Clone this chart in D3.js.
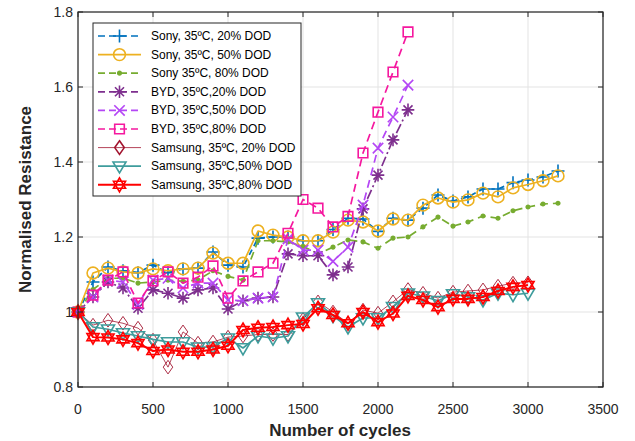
<!DOCTYPE html>
<html>
<head>
<meta charset="utf-8">
<script src="https://cdn.jsdelivr.net/npm/d3@7"></script>
<style>
  body { margin: 0; background: #fff; }
  text { font-family: "Liberation Sans", Arial, sans-serif; }
</style>
</head>
<body>
<svg id="chart" width="635" height="441"></svg>
<script>
// cycles sampled every 100
var cyclesSony = d3.range(0, 3201, 100);
var cyclesBYD = d3.range(0, 2201, 100);
var cyclesSamsung = d3.range(0, 3001, 100);

var sony20 = [1.0, 1.08, 1.12, 1.11, 1.105, 1.125, 1.105, 1.115, 1.117, 1.16, 1.125, 1.12, 1.197, 1.2, 1.2, 1.19, 1.19, 1.22, 1.25, 1.248, 1.215, 1.25, 1.245, 1.277, 1.312, 1.296, 1.307, 1.328, 1.328, 1.345, 1.352, 1.36, 1.376];
var sony50 = [1.0, 1.104, 1.117, 1.107, 1.104, 1.115, 1.11, 1.115, 1.117, 1.157, 1.13, 1.13, 1.216, 1.205, 1.2, 1.19, 1.19, 1.213, 1.245, 1.24, 1.216, 1.248, 1.245, 1.285, 1.304, 1.293, 1.299, 1.317, 1.307, 1.331, 1.34, 1.35, 1.363];
var sony80 = [1.0, 1.06, 1.09, 1.09, 1.077, 1.08, 1.085, 1.082, 1.085, 1.11, 1.095, 1.085, 1.19, 1.19, 1.187, 1.175, 1.155, 1.173, 1.192, 1.187, 1.17, 1.197, 1.2, 1.227, 1.253, 1.229, 1.24, 1.256, 1.25, 1.27, 1.28, 1.288, 1.29];
var byd20 = [1.0, 1.04, 1.08, 1.064, 1.01, 1.059, 1.05, 1.037, 1.059, 1.064, 1.008, 1.03, 1.037, 1.04, 1.155, 1.15, 1.15, 1.099, 1.12, 1.275, 1.365, 1.459, 1.539];
var byd50 = [1.0, 1.04, 1.085, 1.08, 1.02, 1.085, 1.09, 1.064, 1.077, 1.077, 1.032, 1.03, 1.037, 1.04, 1.195, 1.165, 1.165, 1.135, 1.173, 1.285, 1.437, 1.52, 1.605];
var byd80 = [1.0, 1.045, 1.085, 1.107, 1.024, 1.083, 1.107, 1.077, 1.093, 1.123, 1.037, 1.083, 1.107, 1.13, 1.21, 1.3, 1.277, 1.227, 1.255, 1.424, 1.533, 1.64, 1.747];
var samsung20 = [1.0, 0.965, 0.978, 0.97, 0.957, 0.925, 0.853, 0.947, 0.917, 0.92, 0.933, 0.936, 0.94, 0.94, 0.94, 0.98, 1.027, 1.0, 0.97, 1.005, 0.997, 1.027, 1.06, 1.05, 1.037, 1.053, 1.056, 1.059, 1.069, 1.077, 1.078];
var samsung50 = [1.0, 0.96, 0.954, 0.944, 0.936, 0.927, 0.92, 0.92, 0.906, 0.907, 0.93, 0.904, 0.936, 0.93, 0.936, 0.986, 1.024, 0.99, 0.96, 0.984, 0.984, 1.014, 1.05, 1.042, 1.03, 1.048, 1.04, 1.032, 1.05, 1.046, 1.05];
var samsung80 = [1.0, 0.933, 0.932, 0.927, 0.917, 0.896, 0.9, 0.894, 0.894, 0.9, 0.91, 0.952, 0.958, 0.96, 0.965, 0.968, 1.01, 0.992, 0.97, 1.0, 0.973, 0.996, 1.043, 1.032, 1.013, 1.035, 1.035, 1.04, 1.056, 1.067, 1.072];

var labels = ["Sony, 35ºC, 20% DOD", "Sony, 35ºC, 50% DOD", "Sony 35ºC, 80% DOD",
  "BYD, 35ºC,20% DOD", "BYD, 35ºC,50% DOD", "BYD, 35ºC,80% DOD",
  "Samsung, 35ºC, 20% DOD", "Samsung, 35ºC,50% DOD", "Samsung, 35ºC,80% DOD"];

var xTicks = [0, 500, 1000, 1500, 2000, 2500, 3000, 3500];
var yTicks = [0.8, 1, 1.2, 1.4, 1.6, 1.8];

var series = [
  {x: cyclesSony, y: sony20, colour: "#0072bd", marker: "plus", dash: "6,4", width: 1.7},
  {x: cyclesSony, y: sony50, colour: "#edb120", marker: "circle", dash: null, width: 1.7},
  {x: cyclesSony, y: sony80, colour: "#77ac30", marker: "dot", dash: "8,5", width: 1.7},
  {x: cyclesBYD, y: byd20, colour: "#7e2f8e", marker: "asterisk", dash: "10,3,2,3", width: 1.7},
  {x: cyclesBYD, y: byd50, colour: "#b446f5", marker: "cross", dash: "8,5", width: 1.7},
  {x: cyclesBYD, y: byd80, colour: "#f5189f", marker: "square", dash: "8,5", width: 1.7},
  {x: cyclesSamsung, y: samsung20, colour: "#a2142f", marker: "diamond", dash: null, width: 0.8},
  {x: cyclesSamsung, y: samsung50, colour: "#3e9c9c", marker: "triangledown", dash: null, width: 1.7},
  {x: cyclesSamsung, y: samsung80, colour: "#ff0000", marker: "hexagram", dash: null, width: 2}
];

var svg = d3.select("#chart");
var plotLeft = 78, plotRight = 603, plotTop = 12, plotBottom = 387;

var x = d3.scaleLinear().domain([0, 3500]).range([plotLeft, plotRight]);
var y = d3.scaleLinear().domain([0.8, 1.8]).range([plotBottom, plotTop]);

// grid
svg.append("g").selectAll("line").data(xTicks).enter().append("line")
  .attr("x1", function(d){return x(d)}).attr("x2", function(d){return x(d)})
  .attr("y1", plotTop).attr("y2", plotBottom)
  .style("stroke", "#e3e3e3").style("stroke-width", 1);
svg.append("g").selectAll("line").data(yTicks).enter().append("line")
  .attr("y1", function(d){return y(d)}).attr("y2", function(d){return y(d)})
  .attr("x1", plotLeft).attr("x2", plotRight)
  .style("stroke", "#e3e3e3").style("stroke-width", 1);

function markerPath(kind){
  var s;
  switch(kind){
    case "plus": s = 6.5; return "M" + (-s) + ",0H" + s + "M0," + (-s) + "V" + s;
    case "cross": s = 5.2; return "M" + (-s) + "," + (-s) + "L" + s + "," + s + "M" + (-s) + "," + s + "L" + s + "," + (-s);
    case "asterisk": s = 6.3; var t = 4.5;
      return "M" + (-s) + ",0H" + s + "M0," + (-s) + "V" + s +
        "M" + (-t) + "," + (-t) + "L" + t + "," + t + "M" + (-t) + "," + t + "L" + t + "," + (-t);
    case "square": s = 4.8; return "M" + (-s) + "," + (-s) + "H" + s + "V" + s + "H" + (-s) + "Z";
    case "diamond": s = 6.8; return "M0," + (-s) + "L" + (s*0.7) + ",0L0," + s + "L" + (-s*0.7) + ",0Z";
    case "triangledown": s = 6.5; return "M" + (-s) + "," + (-s*0.65) + "H" + s + "L0," + (s*1.05) + "Z";
    case "hexagram": s = 7;
      var up = [[0, -s], [s*0.866, s*0.5], [-s*0.866, s*0.5]];
      var dn = [[0, s], [s*0.866, -s*0.5], [-s*0.866, -s*0.5]];
      return "M" + up.join("L") + "Z" + "M" + dn.join("L") + "Z";
    case "circle": return d3.symbol().type(d3.symbolCircle).size(110)();
    case "dot": return d3.symbol().type(d3.symbolCircle).size(10)();
  }
}

var line = d3.line();

series.forEach(function(s){
  var pts = s.x.map(function(c, i){return [x(c), y(s.y[i])];});
  var g = svg.append("g");
  g.append("path").attr("d", line(pts))
    .style("fill", "none").style("stroke", s.colour)
    .style("stroke-width", s.width)
    .style("stroke-dasharray", s.dash)
    .style("stroke-linejoin", "round");
  g.selectAll("path.m").data(pts).enter().append("path")
    .attr("class", "m")
    .attr("transform", function(d){return "translate(" + d[0] + "," + d[1] + ")"})
    .attr("d", markerPath(s.marker))
    .style("fill", s.marker == "dot" ? s.colour : "none")
    .style("stroke", s.colour)
    .style("stroke-width", s.marker == "diamond" ? 0.9 : 1.6);
});

// frame with ticks on all sides
var axisColour = "#262626";
svg.append("rect").attr("x", plotLeft).attr("y", plotTop)
  .attr("width", plotRight - plotLeft).attr("height", plotBottom - plotTop)
  .style("fill", "none").style("stroke", axisColour).style("stroke-width", 1.2);

xTicks.forEach(function(t){
  svg.append("line").attr("x1", x(t)).attr("x2", x(t)).attr("y1", plotBottom).attr("y2", plotBottom - 5)
    .style("stroke", axisColour);
  svg.append("line").attr("x1", x(t)).attr("x2", x(t)).attr("y1", plotTop).attr("y2", plotTop + 5)
    .style("stroke", axisColour);
});
yTicks.forEach(function(t){
  svg.append("line").attr("y1", y(t)).attr("y2", y(t)).attr("x1", plotLeft).attr("x2", plotLeft + 5)
    .style("stroke", axisColour);
  svg.append("line").attr("y1", y(t)).attr("y2", y(t)).attr("x1", plotRight).attr("x2", plotRight - 5)
    .style("stroke", axisColour);
});

svg.append("g").selectAll("text").data(xTicks).enter().append("text")
  .attr("x", function(d){return x(d)}).attr("y", 409)
  .attr("text-anchor", "middle").attr("dominant-baseline", "central")
  .style("font-size", "14px").style("fill", axisColour)
  .text(function(d){return d});
svg.append("g").selectAll("text").data(yTicks).enter().append("text")
  .attr("x", 73).attr("y", function(d){return y(d)})
  .attr("text-anchor", "end").attr("dominant-baseline", "central")
  .style("font-size", "14px").style("fill", axisColour)
  .text(function(d){return d3.format("")(d)});

svg.append("text").attr("x", 340).attr("y", 436)
  .attr("text-anchor", "middle")
  .style("font-size", "17px").style("font-weight", "bold").style("fill", axisColour)
  .text("Number of cycles");
svg.append("text").attr("transform", "translate(31," + y(1.3) + ") rotate(-90)")
  .attr("text-anchor", "middle")
  .style("font-size", "17px").style("font-weight", "bold").style("fill", axisColour)
  .text("Normalised Resistance");

// legend
var lg = svg.append("g");
lg.append("rect").attr("x", 93).attr("y", 23).attr("width", 208).attr("height", 173)
  .style("fill", "#fff").style("stroke", axisColour).style("stroke-width", 1);
var rows = lg.selectAll("g.row").data(series).enter().append("g")
  .attr("class", "row")
  .attr("transform", function(d, i){return "translate(0," + (36 + i*18.6) + ")"});
rows.append("line").attr("x1", 98).attr("x2", 141).attr("y1", 0).attr("y2", 0)
  .style("stroke", function(d){return d.colour})
  .style("stroke-width", function(d){return d.width})
  .style("stroke-dasharray", function(d){return d.dash ? "7,4" : null});
rows.append("path").attr("transform", "translate(119.5,0)")
  .attr("d", function(d){return markerPath(d.marker)})
  .style("fill", function(d){return d.marker == "dot" ? d.colour : "none"})
  .style("stroke", function(d){return d.colour})
  .style("stroke-width", 1.6);
rows.append("text").attr("x", 151).attr("y", 0)
  .attr("dominant-baseline", "central")
  .style("font-size", "12px").style("fill", "#000")
  .text(function(d, i){return labels[i]});
</script>
</body>
</html>
